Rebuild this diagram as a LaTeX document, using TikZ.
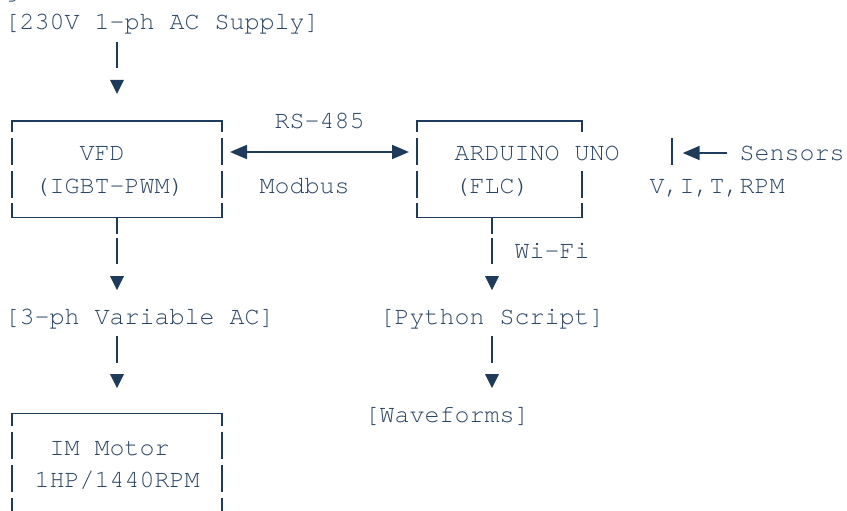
\documentclass[tikz,border=0pt]{standalone}
\usepackage{fontspec}
\newfontfamily\monofont{TeX Gyre Cursor}
\usetikzlibrary{arrows.meta}
\definecolor{ink}{HTML}{1F3B5C}
\definecolor{inktext}{HTML}{2A4566}

% character grid: 15pt per column, 32.7pt per row
\newcommand\colc[1]{12+15*#1}      % centre of a column
\newcommand\coll[1]{4.5+15*#1}     % left edge of a column
\newcommand\rowb[1]{-2.7+32.7*#1}  % baseline of a row

% one vertical stroke of a connector
\newcommand\connbar[2]{\draw[bar] ({\colc{#1}},{\rowb{#2}-21}) -- ({\colc{#1}},{\rowb{#2}+5.5});}
% one vertical stroke of a box side
\newcommand\boxside[2]{\draw[boxline] ({\colc{#1}},{\rowb{#2}-23}) -- ({\colc{#1}},{\rowb{#2}+4});}
% downward pointing triangle
\newcommand\downtip[2]{\fill[ink] ({\colc{#1}-7},{\rowb{#2}-15.5}) -- ({\colc{#1}+7},{\rowb{#2}-15.5}) -- ({\colc{#1}},{\rowb{#2}-1.5}) -- cycle;}
% place a text at column / row
\newcommand\gridtext[4]{\node[txt] (#1) at ({\coll{#2}},{\rowb{#3}}) {#4};}

\begin{document}
\begin{tikzpicture}[x=1pt,y=-1pt,
  txt/.style={font=\monofont\fontsize{25}{30}\selectfont, text=inktext, inner sep=0pt, anchor=base west},
  boxline/.style={draw=ink, line width=1.5pt},
  bar/.style={draw=ink, line width=2pt},
  tip/.style={Triangle[length=17pt,width=14pt]},
  link/.style={draw=ink, line width=2pt, {Triangle[length=17pt,width=14pt]}-{Triangle[length=17pt,width=14pt]}},
  feed/.style={draw=ink, line width=2pt, -{Triangle[length=17pt,width=14pt]}}]
\useasboundingbox (0,0) rectangle (847,511);

% texts
\gridtext{above}{0}{0}{g}
\gridtext{supply}{0}{1}{[230V 1-ph AC Supply]}
\gridtext{rs}{18}{4}{RS-485}
\gridtext{vfd}{5}{5}{VFD}
\gridtext{uno}{30}{5}{ARDUINO UNO}
\gridtext{sensors}{49}{5}{Sensors}
\gridtext{igbt}{2}{6}{(IGBT-PWM)}
\gridtext{modbus}{17}{6}{Modbus}
\gridtext{flc}{30}{6}{(FLC)}
\gridtext{vitr}{43}{6}{V,I,T,RPM}
\gridtext{wifi}{34}{8}{Wi-Fi}
\gridtext{threeph}{0}{10}{[3-ph Variable AC]}
\gridtext{python}{25}{10}{[Python Script]}
\gridtext{waves}{24}{13}{[Waveforms]}
\gridtext{im}{3}{14}{IM Motor}
\gridtext{rating}{2}{15}{1HP/1440RPM}

% supply -> VFD
\connbar{7}{2}
\downtip{7}{3}

% VFD box
\draw[boxline] ({\colc{0}},{\rowb{4}+4}) -- ({\colc{0}},121) -- ({\colc{14}},121) -- ({\colc{14}},{\rowb{4}+4});
\boxside{0}{5}\boxside{14}{5}
\boxside{0}{6}\boxside{14}{6}
\draw[boxline] ({\colc{0}},{\rowb{7}-23}) -- ({\colc{0}},217.5) -- ({\colc{14}},217.5) -- ({\colc{14}},{\rowb{7}-23});
\draw[boxline] ({\colc{7}},217.5) -- ({\colc{7}},234);

% Arduino box
\draw[boxline] ({\colc{27}},{\rowb{4}+4}) -- ({\colc{27}},121) -- ({\colc{38}},121) -- ({\colc{38}},{\rowb{4}+4});
\boxside{27}{5}\boxside{44}{5}
\boxside{27}{6}\boxside{38}{6}
\draw[boxline] ({\colc{27}},{\rowb{7}-23}) -- ({\colc{27}},217.5) -- ({\colc{38}},217.5) -- ({\colc{38}},{\rowb{7}-23});
\draw[boxline] ({\colc{32}},217.5) -- ({\colc{32}},234);

% RS-485 link between the boxes
\coordinate (linkW) at (230,152);
\coordinate (linkE) at (409,152);
\draw[link] (linkW) -- (linkE);

% sensor input
\coordinate (senFrom) at (727,153);
\coordinate (senTo) at (682.7,153);
\draw[feed] (senFrom) -- (senTo);

% VFD -> 3-ph AC -> motor
\connbar{7}{8}
\downtip{7}{9}
\connbar{7}{11}
\downtip{7}{12}

% Arduino -> Python -> waveforms
\connbar{32}{8}
\downtip{32}{9}
\connbar{32}{11}
\downtip{32}{12}

% motor box
\draw[boxline] ({\colc{0}},{\rowb{13}+4}) -- ({\colc{0}},413.5) -- ({\colc{14}},413.5) -- ({\colc{14}},{\rowb{13}+4});
\boxside{0}{14}\boxside{14}{14}
\boxside{0}{15}\boxside{14}{15}
\boxside{0}{16}\boxside{14}{16}
\end{tikzpicture}
\end{document}
